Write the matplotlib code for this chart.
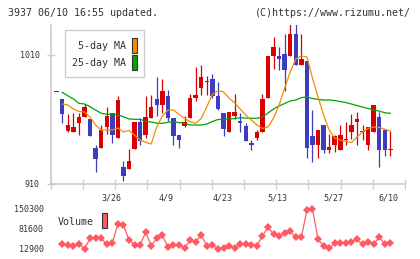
import numpy as np
import matplotlib
matplotlib.use('Agg')
import matplotlib.pyplot as plt
from matplotlib.patches import Rectangle
from matplotlib.transforms import blended_transform_factory

# daily candles, oldest first (index 0 .. 60)
opens = [981, 976, 951, 950, 957, 962, 960, 938, 938, 954,
         965, 946, 923, 922, 937, 958, 948, 961, 976, 971,
         978, 961, 948, 955, 961, 977, 984, 989, 991, 978,
         965, 950, 963, 959, 955, 942, 946, 950, 977, 1009,
         1009, 1011, 1009, 1026, 1002, 1005, 947, 940, 956, 936,
         940, 936, 944, 950, 958, 950, 940, 950, 962, 952,
         936]
highs = [981, 976, 964, 965, 965, 972, 960, 940, 956, 970,
         965, 978, 928, 937, 958, 961, 978, 979, 993, 991,
         983, 961, 948, 963, 980, 1001, 1002, 994, 995, 989,
         965, 966, 980, 965, 957, 944, 952, 980, 1009, 1024,
         1016, 1026, 1034, 1034, 1026, 1005, 967, 952, 956, 949,
         948, 956, 958, 964, 966, 956, 954, 971, 966, 952,
         951]
lows = [981, 957, 950, 950, 948, 962, 947, 919, 938, 949,
        942, 946, 912, 922, 937, 940, 946, 961, 963, 965,
        959, 940, 938, 954, 961, 974, 979, 979, 977, 967,
        947, 950, 960, 950, 943, 936, 944, 950, 977, 999,
        998, 982, 1009, 1002, 1002, 930, 927, 930, 934, 934,
        935, 936, 940, 945, 940, 944, 936, 950, 923, 932,
        932]
closes = [981, 964, 956, 954, 962, 970, 947, 929, 952, 963,
          948, 975, 916, 928, 958, 943, 962, 970, 971, 982,
          961, 947, 944, 958, 977, 979, 993, 990, 978, 968,
          953, 966, 966, 957, 943, 940, 950, 976, 1009, 1016,
          1007, 998, 1026, 1002, 1007, 938, 940, 952, 936, 939,
          947, 948, 945, 956, 960, 951, 954, 971, 936, 936,
          937]

nan = np.nan
ma5 = [nan, 972.0, 971.2, 968.1, 966.2, 965.8, 961.9, 955.7, 951.8, 951.8,
       951.8, 953.4, 950.3, 951.5, 947.9, 944.1, 942.3, 941.0, 954.4, 962.7,
       967.3, 967.3, 964.0, 960.9, 958.3, 957.0, 960.9, 969.9, 979.5, 982.3,
       981.3, 976.6, 972.8, 968.1, 963.5, 959.6, 955.7, 953.0, 954.2, 961.1,
       971.2, 984.4, 996.8, 1006.9, 1009.2, 1008.4, 992.1, 977.4, 963.5, 951.8,
       945.6, 944.1, 942.9, 942.1, 946.4, 950.3, 953.0, 954.2, 953.8, 952.6,
       951.0]
ma25 = [nan, 981.0, 978.4, 975.9, 972.5, 972.0, 969.9, 967.3, 964.8, 964.0,
        964.0, 963.5, 962.1, 960.4, 960.1, 960.1, 958.6, 958.0, 957.2, 957.0,
        957.8, 958.3, 957.6, 957.0, 955.7, 955.7, 955.7, 956.5, 958.4, 960.0,
        960.0, 960.4, 960.7, 961.4, 961.1, 960.9, 960.9, 961.9, 965.0, 968.1,
        970.4, 972.4, 974.3, 975.1, 977.0, 977.4, 976.2, 975.5, 975.1, 975.1,
        974.7, 973.9, 973.1, 972.0, 970.8, 969.6, 968.5, 967.3, 966.5, 965.2,
        964.8]
volume = [nan, 30100, 26600, 24200, 30100, 12900, 49700, 49700, 49700, 29000,
          34500, 97700, 95300, 43800, 26600, 26600, 70300, 24200, 49700, 61000,
          18700, 26600, 26600, 15300, 43800, 38000, 61000, 23200, 26600, 13500,
          15300, 23200, 15300, 30100, 30100, 26600, 23200, 57600, 87400, 64400,
          57600, 66800, 74700, 53100, 53100, 146900, 150300, 46200, 23200, 15300,
          32500, 32500, 32500, 38000, 46200, 29000, 35900, 29000, 53100, 30100,
          32500]

date_pos = [10, 20, 30, 40, 50, 60]
date_labels = ['3/26', '4/9', '4/23', '5/13', '5/27', '6/10']
price_ticks = [910, 1010]
vol_ticks = [12900, 81600, 150300]

W, H = 420, 259
UP = '#d90000'
DOWN = '#3c3cbe'
ORANGE = '#f28c00'
GREEN = '#00a400'
GRID = '#cccccc'
TXT = '#333333'
VOLC = '#ff5a62'
MONO = 'DejaVu Sans Mono'

plt.rcParams['font.family'] = MONO

fig = plt.figure(figsize=(W / 100, H / 100), dpi=100)

def px_axes(x0, y0, x1, y1):
    return fig.add_axes([x0 / W, 1 - y1 / H, (x1 - x0) / W, (y1 - y0) / H])

xlim = (-1.08, 62.64)

# price panel
ax = px_axes(50.7, 25, 405, 184)
ax.set_xlim(*xlim)
ax.set_ylim(910, 1033.2)

x = np.arange(len(opens))
o = np.array(opens, float)
c = np.array(closes, float)
hi = np.array(highs, float)
lo = np.array(lows, float)
up = c >= o
cols = np.where(up, UP, DOWN)

ax.vlines(x, lo, hi, colors=cols, linewidth=0.9, zorder=2)
body_lo = np.minimum(o, c)
body_h = np.maximum(np.abs(c - o), 0.9)
ax.bar(x, body_h, bottom=body_lo, width=0.8, color=cols, linewidth=0, zorder=3)

ax.plot(x, ma25, color=GREEN, linewidth=0.9, zorder=4)
ax.plot(x, ma5, color=ORANGE, linewidth=0.9, zorder=4)

for s in ['top', 'right']:
    ax.spines[s].set_visible(False)
for s in ['left', 'bottom']:
    ax.spines[s].set_color(GRID)
    ax.spines[s].set_linewidth(1.2)

ax.set_yticks(price_ticks)
ax.set_yticklabels([str(v) for v in price_ticks])
ax.tick_params(axis='y', direction='inout', length=6, width=1, color=GRID,
               labelsize=6, labelcolor=TXT, pad=5)
ax.set_xticks(np.linspace(xlim[0], xlim[1], 12))
ax.set_xticklabels([])
ax.tick_params(axis='x', direction='inout', length=7, width=1, color=GRID)

tr = blended_transform_factory(ax.transData, ax.transAxes)
for p, lab in zip(date_pos, date_labels):
    ax.text(p - 0.25, -0.09, lab, transform=tr, ha='center', va='center',
            fontsize=6, color=TXT)

# legend box
leg = Rectangle((65 / W, 1 - 77 / H), 79 / W, 47 / H, transform=fig.transFigure,
                facecolor='white', edgecolor=GRID, linewidth=1, zorder=5)
fig.patches.append(leg)
fig.text(126 / W, 1 - 46 / H, '5-day MA', ha='right', va='center',
         fontsize=7.2, color=TXT, zorder=6)
fig.text(126 / W, 1 - 62.5 / H, '25-day MA', ha='right', va='center',
         fontsize=7.2, color=TXT, zorder=6)
for yy, col in [(37.5, ORANGE), (54.5, GREEN)]:
    fig.patches.append(Rectangle((131.5 / W, 1 - (yy + 15) / H), 5.5 / W, 15 / H,
                                 transform=fig.transFigure, facecolor=col,
                                 edgecolor='#333333', linewidth=0.8, zorder=6))

# volume panel
axv = px_axes(50.7, 209, 405, 249)
axv.set_xlim(*xlim)
axv.set_ylim(vol_ticks[0], vol_ticks[-1])
axv.plot(x, volume, color=VOLC, linewidth=0.9, marker='D', markersize=4.0,
         markeredgewidth=0, clip_on=False)
for s in axv.spines.values():
    s.set_visible(False)
axv.set_xticks([])
axv.set_yticks(vol_ticks)
axv.set_yticklabels([str(v) for v in vol_ticks])
axv.tick_params(axis='y', length=0, labelsize=6, labelcolor=TXT, pad=5)
axv.patch.set_alpha(0)

fig.text(58 / W, 1 - 222 / H, 'Volume', ha='left', va='center',
         fontsize=7.2, color=TXT)
fig.patches.append(Rectangle((101.5 / W, 1 - 228 / H), 5.5 / W, 15 / H,
                             transform=fig.transFigure, facecolor=VOLC,
                             edgecolor='#333333', linewidth=0.8))

# header
fig.text(8 / W, 1 - 13 / H, '3937 06/10 16:55 updated.', ha='left', va='center',
         fontsize=7.2, color=TXT)
fig.text(411 / W, 1 - 13 / H, '(C)https://www.rizumu.net/', ha='right',
         va='center', fontsize=7.2, color=TXT)

fig.savefig('out.png', dpi=100, facecolor='white')
